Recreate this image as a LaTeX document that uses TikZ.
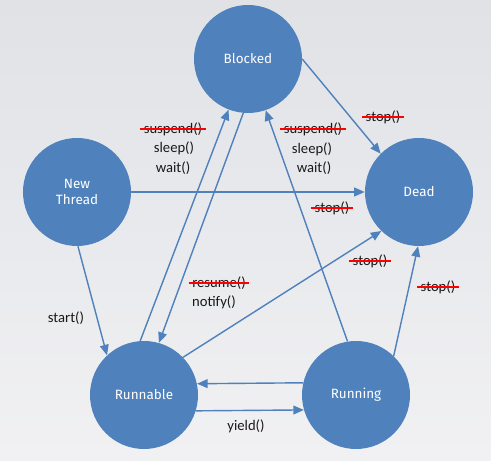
\documentclass[tikz,border=0pt]{standalone}
\usepackage{fontspec}
\setmainfont{Carlito}
\newfontfamily\statefont{Fira Sans}
\usetikzlibrary{arrows.meta}
\definecolor{stateblue}{RGB}{79,129,189}
\definecolor{bgtop}{RGB}{224,226,230}
\definecolor{bgbottom}{RGB}{241,241,243}
\definecolor{labelgray}{RGB}{25,25,25}

\begin{document}
\begin{tikzpicture}[x=0.03cm, y=-0.03cm,
    state/.style={circle, fill=stateblue, minimum size=3.24cm, inner sep=0pt, align=center, text=white, font=\statefont\fontsize{11.5}{13.5}\selectfont},
    arrow/.style={-{Triangle[length=9pt,width=7.5pt]}, draw=stateblue, line width=1.2pt},
    lbl/.style={text=labelgray, font=\fontsize{12.5}{14}\selectfont, inner sep=1pt},
    struck/.style={lbl, inner xsep=3pt, append after command={(\tikzlastnode.west) edge[red, line width=1.3pt] (\tikzlastnode.east)}}
]
    % background
    \fill[top color=bgtop, bottom color=bgbottom] (0,0) rectangle (491,461);

    % states
    \node[state] (blocked) at (248,59) {Blocked};
    \node[state] (new) at (77,192) {New\\Thread};
    \node[state] (dead) at (419,192) {Dead};
    \node[state] (runnable) at (144,395) {Runnable};
    \node[state] (running) at (356,395) {Running};

    % transitions
    \draw[arrow] (new.east) -- (dead.west);
    \draw[arrow] (blocked.0) -- (dead.135);
    \draw[arrow] (new.-89) -- (runnable.133);
    \draw[arrow] (runnable.94) -- (blocked.-111);
    \draw[arrow] (blocked.-95) -- (runnable.74);
    \draw[arrow] (running.99) -- (blocked.-71);
    \draw[arrow] (runnable.44) -- (dead.226);
    \draw[arrow] (running.46) -- (dead.-91);
    \draw[arrow] (running.167) -- (runnable.12);
    \draw[arrow] (runnable.-17) -- (running.196);

    % labels
    \node[struck] (stopnew) at (332,208) {stop()};
    \node[struck] (stopblocked) at (383,117) {stop()};
    \node[lbl] (start) at (66,318) {start()};
    \node[struck] (suspendl) at (173,129) {suspend()};
    \node[lbl] (sleepl) at (174,148) {sleep()};
    \node[lbl] (waitl) at (173,168) {wait()};
    \node[struck] (resume) at (219,283) {resume()};
    \node[lbl] (notify) at (214,302) {notify()};
    \node[struck] (suspendr) at (313,129) {suspend()};
    \node[lbl] (sleepr) at (312,149) {sleep()};
    \node[lbl] (waitr) at (314,168) {wait()};
    \node[struck] (stoprunnable) at (370,261) {stop()};
    \node[struck] (stoprunning) at (438,287) {stop()};
    \node[lbl] (yield) at (246,426) {yield()};
\end{tikzpicture}
\end{document}
